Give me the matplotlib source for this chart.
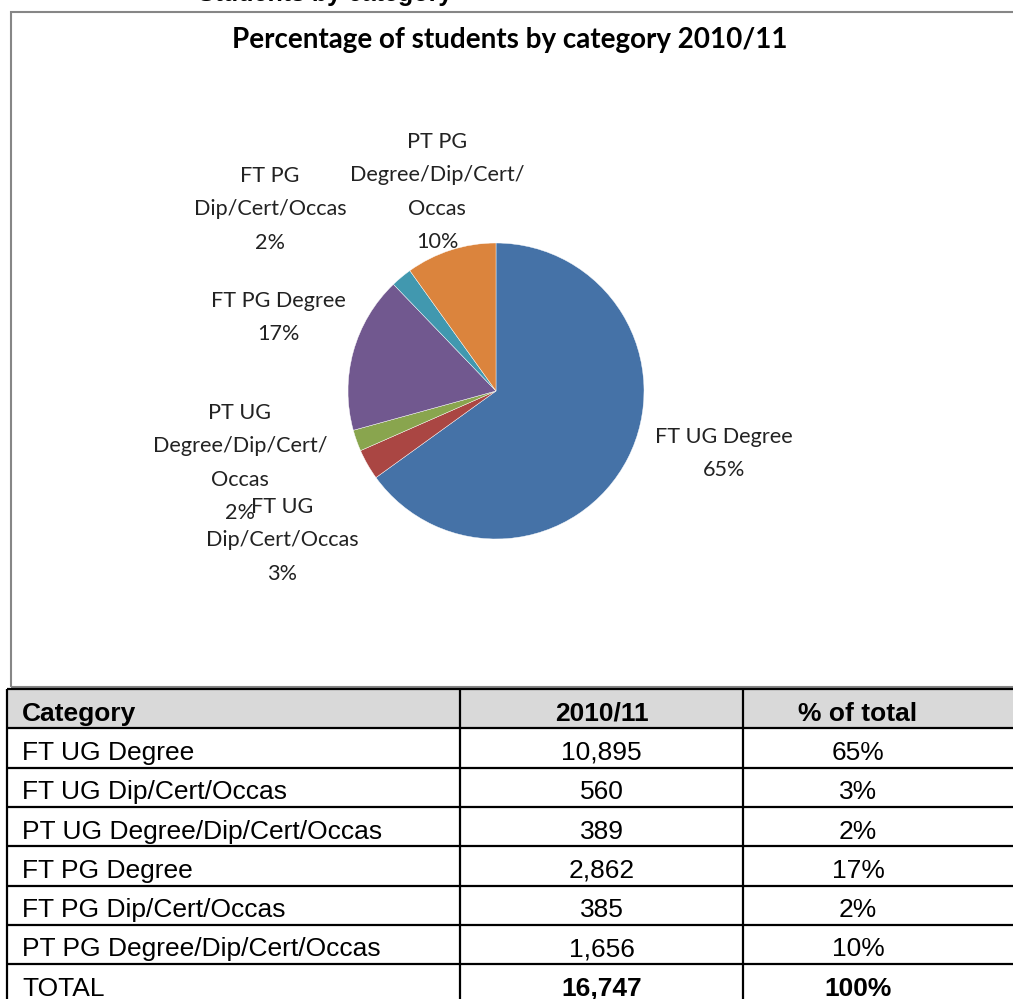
import matplotlib.pyplot as plt
from matplotlib.patches import Rectangle

categories = [
    "FT UG Degree",
    "FT UG Dip/Cert/Occas",
    "PT UG Degree/Dip/Cert/Occas",
    "FT PG Degree",
    "FT PG Dip/Cert/Occas",
    "PT PG Degree/Dip/Cert/Occas",
]
counts = [10895, 560, 389, 2862, 385, 1656]
pct_labels = ["65%", "3%", "2%", "17%", "2%", "10%"]
total_count = "16,747"
total_pct = "100%"

pie_labels = [
    "FT UG Degree\n65%",
    "FT UG\nDip/Cert/Occas\n3%",
    "PT UG\nDegree/Dip/Cert/\nOccas\n2%",
    "FT PG Degree\n17%",
    "FT PG\nDip/Cert/Occas\n2%",
    "PT PG\nDegree/Dip/Cert/\nOccas\n10%",
]
colors = ["#4572a7", "#aa4643", "#89a54e", "#71588f", "#4198af", "#db843d"]

# label anchor points in pixels (x, top of first line), as placed in the source sheet
label_pos = [(724, 427), (282, 497), (240, 403), (278, 291), (270, 166), (437, 132)]

W, H = 1013, 999
fig = plt.figure(figsize=(W / 100, H / 100), dpi=100)
ax = fig.add_axes([0, 0, 1, 1])


def py(y):
    return H - y


# cut-off heading from the page above the chart
ax.text(452, py(1.5), "Students by category", ha="right", va="baseline",
        fontsize=18, fontweight="bold", family="Liberation Sans", color="black")

# chart frame
ax.add_patch(Rectangle((11, py(687)), 1100, 675, fill=False, edgecolor="#868686", lw=1.5))

ax.text(510, py(40), "Percentage of students by category 2010/11", ha="center", va="center",
        fontsize=20, fontweight="bold", family="Lato", color="black")

ax.pie(counts, colors=colors, startangle=90, counterclock=False, center=(496, py(391)),
       radius=148, wedgeprops=dict(edgecolor="white", linewidth=0.3))

for lab, (x, y) in zip(pie_labels, label_pos):
    ax.text(x, py(y), lab, ha="center", va="top", fontsize=15.6, family="Lato",
            color="#222222", linespacing=1.84, multialignment="center")

# table
col_x = [7, 460, 743, 1100]
row_h = 39.3
top = 689
ax.add_patch(Rectangle((col_x[0], py(top + row_h)), 1100, row_h, facecolor="#d9d9d9", edgecolor="none"))

headers = ["Category", "2010/11", "% of total"]
rows = [[c, f"{n:,}", p] for c, n, p in zip(categories, counts, pct_labels)]
rows.append(["TOTAL", total_count, total_pct])

n_rows = len(rows) + 1
for i in range(n_rows + 1):
    y = top + i * row_h
    ax.plot([col_x[0], 1100], [py(y), py(y)], color="black", lw=1.6, solid_capstyle="butt")
for x in col_x[:3]:
    ax.plot([x, x], [py(top), py(top + n_rows * row_h)], color="black", lw=1.6, solid_capstyle="butt")

tfont = dict(family="Liberation Sans", fontsize=19, color="black", va="center")
for j, h in enumerate(headers):
    yc = py(top + row_h / 2 + 5)
    if j == 0:
        ax.text(22, yc, h, ha="left", fontweight="bold", **tfont)
    else:
        ax.text((col_x[j] + min(col_x[j + 1], 973)) / 2, yc, h, ha="center", fontweight="bold", **tfont)

for i, r in enumerate(rows):
    yc = py(top + (i + 1.5) * row_h + 5)
    last = i == len(rows) - 1
    ax.text(22, yc, r[0], ha="left", **tfont)
    ax.text((col_x[1] + col_x[2]) / 2, yc, r[1], ha="center",
            fontweight="bold" if last else "normal", **tfont)
    ax.text((col_x[2] + 973) / 2, yc, r[2], ha="center",
            fontweight="bold" if last else "normal", **tfont)

ax.set_xlim(0, W)
ax.set_ylim(0, H)
ax.set_aspect("auto")
ax.axis("off")

fig.savefig("out.png", dpi=100)
